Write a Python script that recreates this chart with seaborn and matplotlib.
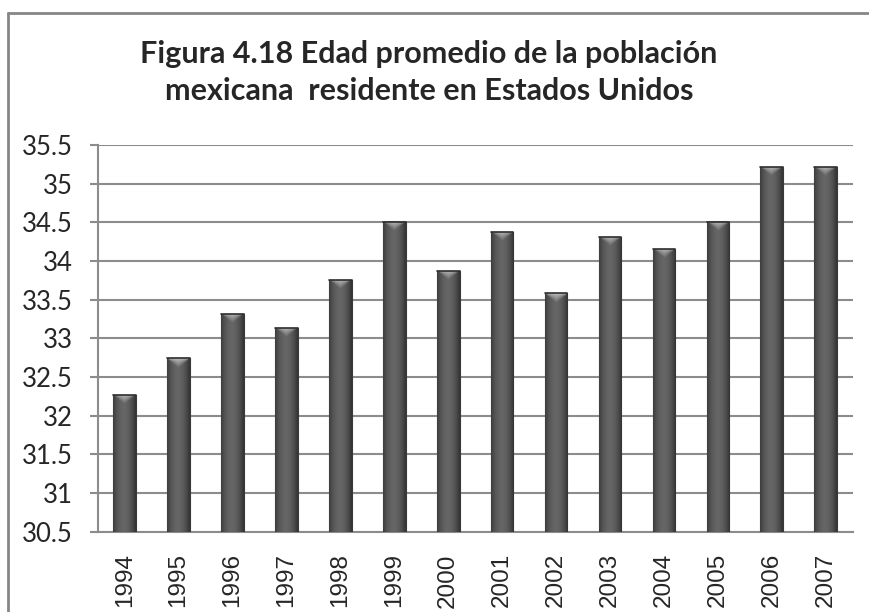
import numpy as np
import pandas as pd
import matplotlib
matplotlib.use("Agg")
import matplotlib.pyplot as plt
from matplotlib.lines import Line2D
import seaborn as sns

years = ["1994", "1995", "1996", "1997", "1998", "1999", "2000",
         "2001", "2002", "2003", "2004", "2005", "2006", "2007"]
edad = [32.27, 32.74, 33.32, 33.14, 33.75, 34.51, 33.87,
        34.38, 33.58, 34.31, 34.16, 34.51, 35.21, 35.21]
yticks = [30.5, 31, 31.5, 32, 32.5, 33, 33.5, 34, 34.5, 35, 35.5]
title_lines = ["Figura 4.18 Edad promedio de la población",
               "mexicana  residente en Estados Unidos"]

df = pd.DataFrame({"year": years, "edad": edad})

sns.set_style("white")
plt.rcParams["font.family"] = ["Lato", "DejaVu Sans"]

fig = plt.figure(figsize=(8.69, 6.12), dpi=100)
ax = fig.add_axes([97.7/869, 1-531.7/612, (852.7-97.7)/869, (531.7-145)/612])

sns.barplot(data=df, x="year", y="edad", ax=ax, color="#555555", width=0.42,
            edgecolor="#3a3a3a", linewidth=0.8, zorder=3)

ymin, ymax = yticks[0], yticks[-1]
ax.set_ylim(ymin, ymax)
ax.set_xlim(-0.5, len(years) - 0.5)

# cylinder-like shading
xs = np.linspace(-1, 1, 64)
shade = 0.40 - 0.16 * xs**2
shade = shade - 0.04 * np.clip(xs, 0, 1)
img = np.tile(shade, (2, 1))
for p in ax.patches:
    x0 = p.get_x(); w = p.get_width(); top = p.get_height()
    im = ax.imshow(img, extent=[x0, x0 + w, ymin, top], aspect="auto",
                   cmap="gray", vmin=0, vmax=1, zorder=3.5, origin="lower")
    im.set_clip_path(p)
    hh = 0.13
    gx, gy = np.meshgrid(np.linspace(-1, 1, 40), np.linspace(0, 1, 20))
    depth = 1 - gy
    lim = 0.9 * (1 - np.abs(gx)) + 0.05
    a = np.clip(1 - depth / lim, 0, 1) * (np.abs(gx) < 0.85)
    rgba = np.zeros((20, 40, 4))
    rgba[..., :3] = 0.85
    rgba[..., 3] = a * 0.75
    im2 = ax.imshow(rgba, extent=[x0, x0 + w, top - hh, top], aspect="auto",
                    zorder=3.6, origin="lower")
    im2.set_clip_path(p)
    ax.add_line(Line2D([x0, x0 + w], [top, top], color="#2e2e2e", lw=1.2, zorder=3.7))

ax.set_yticks(yticks)
ax.set_yticklabels([f"{v:g}" for v in yticks], fontsize=18.5, family=["Lato", "DejaVu Sans"])
ax.set_xticks(range(len(years)))
ax.set_xticklabels(years, rotation=90, fontsize=17.5, family=["Liberation Sans", "DejaVu Sans"])
ax.set_xlabel("")
ax.set_ylabel("")

ax.grid(axis="y", color="#8c8c8c", linewidth=1.5, zorder=0)
ax.set_axisbelow(True)
for s in ["top", "right"]:
    ax.spines[s].set_visible(False)
ax.spines["left"].set_color("#8c8c8c")
ax.spines["left"].set_linewidth(1.5)
ax.spines["bottom"].set_color("#8c8c8c")
ax.spines["bottom"].set_linewidth(1.5)
ax.tick_params(axis="y", which="major", left=True, length=6, width=1.5, color="#8c8c8c", pad=12)
ax.tick_params(axis="x", which="major", bottom=False, pad=12)

for i, (line, yb) in enumerate(zip(title_lines, [63, 100])):
    fig.text(429/869, 1 - yb/612, line, ha="center", va="baseline", fontsize=22,
             fontweight="bold", family=["Lato", "DejaVu Sans"])

# outer chart border
fig.add_artist(Line2D([8/869, 8/869], [0, 1 - 13/612], transform=fig.transFigure,
                      color="#868686", lw=2))
fig.add_artist(Line2D([8/869, 1], [1 - 13/612, 1 - 13/612], transform=fig.transFigure,
                      color="#868686", lw=2))

fig.savefig("out.png", dpi=100)
